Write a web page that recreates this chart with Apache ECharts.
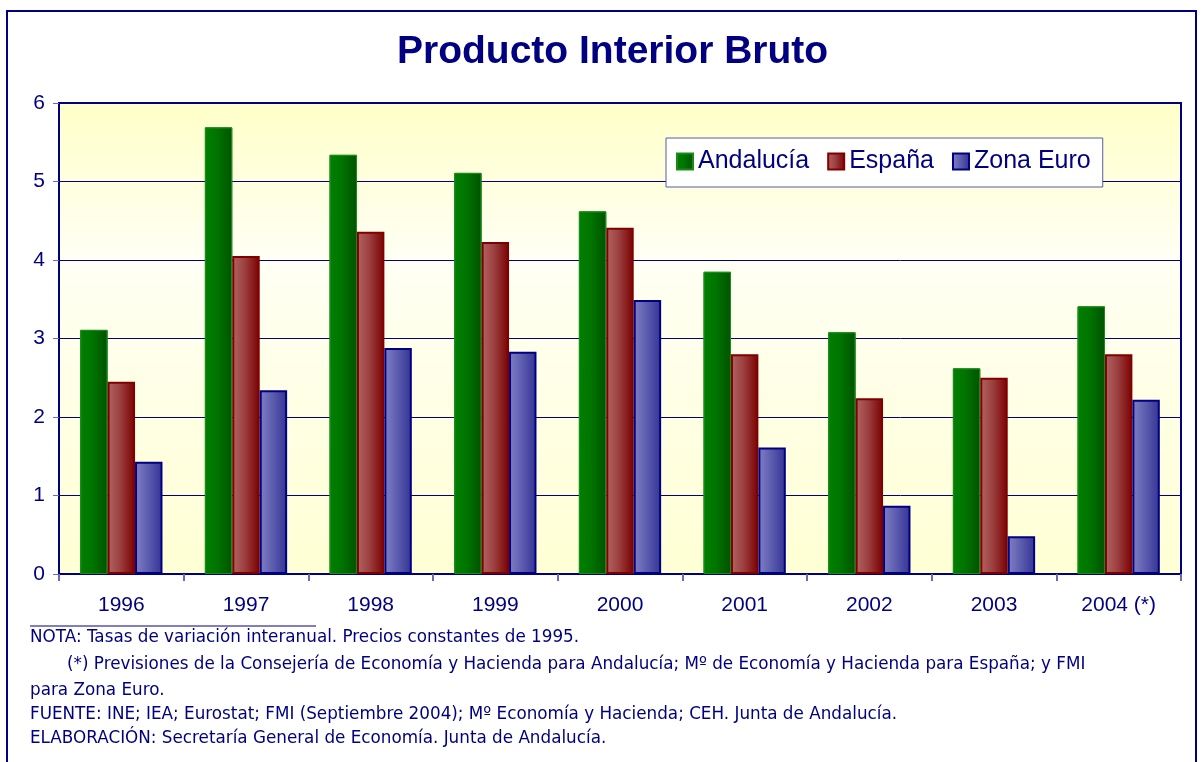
<!DOCTYPE html>
<html>
<head>
<meta charset="utf-8">
<script src="https://cdn.jsdelivr.net/npm/echarts@6/dist/echarts.min.js"></script>
<style>
  html, body { margin: 0; padding: 0; background: #fff; }
  #main { width: 1202px; height: 762px; }
</style>
</head>
<body>
<div id="main"></div>
<script>
// datos
var years = ['1996', '1997', '1998', '1999', '2000', '2001', '2002', '2003', '2004 (*)'];
var andalucia = [3.11, 5.69, 5.34, 5.11, 4.62, 3.85, 3.08, 2.62, 3.41];
var espana = [2.45, 4.05, 4.36, 4.23, 4.41, 2.80, 2.24, 2.50, 2.80];
var zonaEuro = [1.43, 2.34, 2.88, 2.83, 3.49, 1.61, 0.87, 0.48, 2.22];
var yTicks = [0, 1, 2, 3, 4, 5, 6];

var notas = [
    'NOTA: Tasas de variación interanual. Precios constantes de 1995.',
    '(*) Previsiones de la Consejería de Economía y Hacienda para Andalucía; Mº de Economía y Hacienda para España; y FMI',
    'para Zona Euro.',
    'FUENTE: INE; IEA; Eurostat; FMI (Septiembre 2004); Mº Economía y Hacienda; CEH. Junta de Andalucía.',
    'ELABORACIÓN: Secretaría General de Economía. Junta de Andalucía.'
];

var navy = '#000080';
var font = '"Liberation Sans", Arial, sans-serif';

function hgrad(c0, c1, c2) {
    return new echarts.graphic.LinearGradient(0, 0, 1, 0, [
        { offset: 0, color: c0 },
        { offset: 0.45, color: c1 },
        { offset: 1, color: c2 }
    ]);
}

var chart = echarts.init(document.getElementById('main'));

// notas al pie
var notaGraphics = [];
var notaY = [638, 665, 691, 715, 739];
var notaX = [30, 67, 30, 30, 30];
for (var i = 0; i < notas.length; i++) {
    notaGraphics.push({
        type: 'text',
        left: notaX[i],
        top: notaY[i] - 9,
        style: { text: notas[i], fill: navy, font: '16.8px "DejaVu Sans", sans-serif' }
    });
}

var option = {
    backgroundColor: '#fff',
    textStyle: { fontFamily: font },
    title: {
        text: 'Producto Interior Bruto',
        left: 392,
        top: 28,
        textStyle: { color: navy, fontSize: 39, fontWeight: 'bold', fontFamily: font }
    },
    legend: {
        left: 666,
        top: 138,
        padding: [11, 12, 13, 10],
        itemGap: 18,
        itemWidth: 16,
        itemHeight: 16,
        backgroundColor: '#fff',
        borderColor: '#5a5aa8',
        borderWidth: 1,
        textStyle: { color: navy, fontSize: 25, fontFamily: font },
        data: [
            { name: 'Andalucía', icon: 'rect' },
            { name: 'España', icon: 'rect' },
            { name: 'Zona Euro', icon: 'rect' }
        ]
    },
    grid: {
        left: 59,
        right: 21,
        top: 103,
        bottom: 188,
        show: true,
        borderColor: navy,
        borderWidth: 2,
        backgroundColor: new echarts.graphic.LinearGradient(0, 0, 0, 1, [
            { offset: 0, color: '#FFFFC8' },
            { offset: 0.33, color: '#FFFFF4' },
            { offset: 1, color: '#FFFFD4' }
        ])
    },
    xAxis: {
        type: 'category',
        data: years,
        axisLine: { lineStyle: { color: navy, width: 2 } },
        axisTick: { show: true, length: 7, lineStyle: { color: '#6a6ab4', width: 2 } },
        axisLabel: { color: navy, fontSize: 21, margin: 21, fontFamily: font }
    },
    yAxis: {
        type: 'value',
        min: 0,
        max: 6,
        interval: 1,
        axisLine: { show: true, lineStyle: { color: navy, width: 2 } },
        axisTick: { show: true, length: 6, lineStyle: { color: '#6a6ab4' } },
        axisLabel: {
            color: navy, fontSize: 21, margin: 14, fontFamily: font,
            formatter: function (v) { return yTicks.indexOf(v) >= 0 ? String(v) : ''; }
        },
        splitLine: { lineStyle: { color: navy, width: 1 } }
    },
    series: [
        {
            name: 'Andalucía',
            type: 'bar',
            data: andalucia,
            barGap: '0%',
            barCategoryGap: '34%',
            itemStyle: {
                color: hgrad('#008000', '#007400', '#005200'),
                borderColor: '#1b8a1b',
                borderWidth: 1
            }
        },
        {
            name: 'España',
            type: 'bar',
            data: espana,
            itemStyle: {
                color: hgrad('#b36464', '#9c4040', '#7a0000'),
                borderColor: '#800000',
                borderWidth: 2
            }
        },
        {
            name: 'Zona Euro',
            type: 'bar',
            data: zonaEuro,
            itemStyle: {
                color: hgrad('#8080c6', '#5e5eb0', '#333395'),
                borderColor: navy,
                borderWidth: 2
            }
        }
    ],
    graphic: [
        {
            type: 'rect',
            shape: { x: 7, y: 11, width: 1189, height: 800 },
            style: { fill: 'none', stroke: navy, lineWidth: 2 },
            silent: true,
            z: -1
        },
        {
            type: 'line',
            shape: { x1: 30, y1: 626, x2: 316, y2: 626 },
            style: { stroke: navy, lineWidth: 1 }
        }
    ].concat(notaGraphics)
};

chart.setOption(option);
</script>
</body>
</html>
